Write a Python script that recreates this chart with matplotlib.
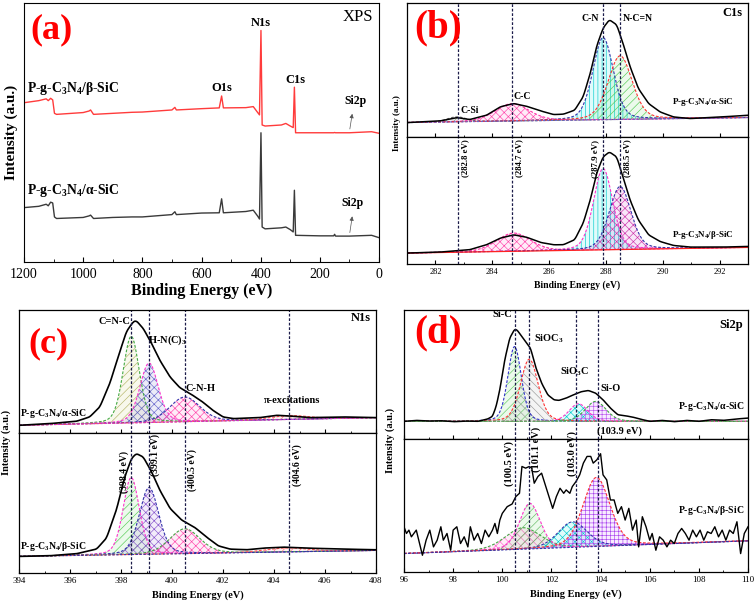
import numpy as np
import matplotlib
matplotlib.use('Agg')
import matplotlib.pyplot as plt
from matplotlib.ticker import MultipleLocator, NullLocator

plt.rcParams['font.family'] = ['Liberation Serif', 'DejaVu Serif']
plt.rcParams['mathtext.fontset'] = 'custom'
plt.rcParams['mathtext.rm'] = 'Liberation Serif:bold'
plt.rcParams['mathtext.it'] = 'Liberation Serif:bold'
plt.rcParams['mathtext.bf'] = 'Liberation Serif:bold'
plt.rcParams['mathtext.default'] = 'rm'
plt.rcParams['hatch.linewidth'] = 0.45

# ---------------- (a) XPS survey ----------------
survey_be = [1200, 1150, 1125, 1118, 1110, 1103, 1097, 1090, 1000, 980, 975, 965, 900, 835, 800,
             700, 690, 685, 600, 540, 532, 526, 450, 425, 410, 404, 399, 395, 385, 330, 315, 300,
             290, 286, 282, 200, 153, 150, 147, 100, 25, 0]
survey_beta = [61.5, 62.3, 63.0, 62.3, 63.2, 62.6, 57.4, 57.0, 57.7, 58.3, 58.7, 57.0, 57.4, 57.8, 57.9,
               58.7, 59.7, 58.7, 59.2, 59.5, 64.1, 59.5, 59.6, 60.0, 57.7, 56.8, 89.4, 52.9, 52.5, 52.9,
               53.5, 52.5, 51.9, 67.5, 49.9, 49.9, 49.9, 50.0, 49.9, 49.9, 50.3, 49.7]
survey_alpha = [21.0, 21.5, 22.3, 21.7, 23.1, 22.8, 17.4, 16.8, 17.2, 17.8, 18.1, 16.8, 17.2, 17.4, 17.4,
                18.3, 19.4, 18.3, 18.9, 19.0, 24.4, 19.0, 19.5, 20.0, 17.7, 16.6, 49.9, 13.5, 12.8, 13.2,
                13.5, 12.5, 11.6, 27.7, 10.3, 10.1, 10.1, 10.7, 10.0, 10.0, 10.3, 9.4]

# ---------------- (b) C1s ----------------
b_env_be = [281.0, 282.17, 282.76, 283.2, 283.8, 284.28, 284.75, 285.2, 285.7, 286.15, 286.5, 286.9,
            287.2, 287.45, 287.67, 287.9, 288.12, 288.38, 288.6, 288.85, 289.14, 289.5, 289.9, 290.37,
            290.95, 292.1, 293.0]
b_alpha_env = [43, 48, 58, 52, 65, 90, 100, 92, 78, 67, 68, 80, 120, 190, 270, 325, 350, 335, 280, 210,
               145, 100, 75, 60, 55, 60, 65]
b_beta_env = [33, 36, 40, 43, 58, 78, 88, 81, 65, 58, 58, 73, 123, 193, 273, 323, 338, 323, 263, 193,
              133, 88, 68, 56, 51, 51, 53]
b_alpha_base = [43, 58]
b_beta_base = [33, 50]
b_alpha_centers = [282.75, 284.7, 287.9, 288.5]
b_alpha_heights = [15, 52, 245, 190]
b_alpha_fwhm = [0.8, 1.4, 0.85, 1.0]
b_beta_centers = [284.75, 287.9, 288.5]
b_beta_heights = [55, 245, 190]
b_beta_fwhm = [1.4, 0.8, 0.9]
b_lines = [282.8, 284.7, 287.9, 288.5]

# ---------------- (c) N1s ----------------
c_env_be = [394.0, 395.2, 396.25, 396.77, 397.17, 397.56, 397.89, 398.21, 398.48, 398.6, 398.87, 399.2,
            399.52, 399.92, 400.3, 400.77, 401.2, 401.6, 402.0, 402.4, 403.45, 404.1, 404.6, 405.4,
            406.7, 408.0]
c_alpha_env = [23, 28, 35, 48, 78, 148, 228, 303, 333, 336, 313, 268, 218, 168, 136, 115, 93, 68, 48,
               43, 46, 53, 51, 46, 48, 46]
c_beta_env_be = [394.0, 395.2, 396.25, 397.04, 397.43, 397.82, 398.15, 398.41, 398.6, 398.87, 399.2,
                 399.52, 399.92, 400.37, 400.9, 401.36, 401.81, 402.27, 402.93, 403.58, 404.37, 405.28,
                 406.7, 408.0]
c_beta_env = [50, 52, 58, 72, 105, 190, 290, 345, 360, 350, 305, 250, 195, 160, 137, 108, 82, 72, 70,
              75, 78, 75, 72, 70]
c_alpha_base = [23, 46]
c_beta_base = [50, 68]
c_alpha_centers = [398.4, 399.1, 400.5, 404.6]
c_alpha_heights = [259, 178, 74, 12]
c_alpha_fwhm = [0.75, 0.85, 1.4, 1.8]
c_beta_centers = [398.4, 399.1, 400.5, 404.5]
c_beta_heights = [232, 201, 75, 12]
c_beta_fwhm = [0.75, 0.9, 1.4, 2.0]
c_lines = [398.4, 399.1, 400.5, 404.6]

# ---------------- (d) Si2p ----------------
d_alpha_be = [96.0, 96.5, 97.0, 97.5, 98.0, 98.5, 99.0, 99.4, 99.6, 99.75, 99.9, 100.1, 100.3, 100.5,
              100.6, 100.8, 101.0, 101.15, 101.35, 101.6, 101.85, 102.1, 102.3, 102.6, 102.9, 103.2,
              103.5, 103.8, 104.1, 104.4, 104.7, 105.0, 105.3, 105.6, 106.0, 106.5, 107.0, 107.5,
              108.0, 108.5, 109.0, 109.5, 110.0]
d_alpha_int = [53, 56, 54, 55, 52, 54, 53, 60, 68, 98, 148, 238, 303, 330, 328, 308, 288, 273, 218, 168,
               133, 118, 116, 123, 133, 142, 146, 138, 118, 93, 73, 70, 66, 60, 53, 56, 52, 56, 53, 58,
               56, 60, 63]
d_beta_be = [96.0, 96.1, 96.2, 96.3, 96.4, 96.5, 96.6, 96.75, 96.9, 97.05, 97.2, 97.35, 97.5, 97.6,
             97.75, 97.9, 98.0, 98.15, 98.3, 98.45, 98.6, 98.7, 98.85, 99.0, 99.15, 99.3, 99.45, 99.6,
             99.7, 99.8, 99.9, 100.0, 100.2, 100.4, 100.55, 100.7, 100.8, 100.95, 101.1, 101.2, 101.3,
             101.45, 101.6, 101.75, 101.9, 102.05, 102.2, 102.35, 102.5, 102.6, 102.75, 102.85, 103.0,
             103.15, 103.3, 103.45, 103.6, 103.7, 103.85, 104.0, 104.1, 104.25, 104.4, 104.55, 104.7,
             104.85, 105.0, 105.15, 105.3, 105.45, 105.55, 105.7, 105.85, 106.0, 106.1, 106.25, 106.4,
             106.55, 106.7, 106.85, 107.0, 107.15, 107.3, 107.45, 107.6, 107.75, 107.9, 108.05, 108.2,
             108.35, 108.5, 108.65, 108.8, 108.95, 109.1, 109.25, 109.4, 109.55, 109.7, 109.85, 110.0]
d_beta_int = [135, 115, 125, 105, 115, 125, 95, 50, 95, 125, 75, 95, 135, 95, 115, 65, 125, 135, 85,
              105, 75, 135, 95, 115, 85, 125, 105, 125, 145, 115, 155, 175, 195, 203, 225, 235, 315,
              310, 315, 310, 265, 285, 295, 260, 225, 190, 225, 250, 235, 245, 235, 255, 270, 290, 325,
              345, 345, 325, 335, 353, 290, 275, 215, 215, 175, 195, 155, 190, 125, 155, 75, 165, 135,
              95, 115, 65, 105, 95, 75, 95, 85, 115, 130, 115, 95, 125, 105, 125, 95, 120, 115, 135,
              105, 125, 95, 125, 115, 150, 55, 115, 135]
d_alpha_base = [53, 53]
d_beta_base = [55, 93]
d_alpha_centers = [100.5, 101.1, 103.1, 103.8]
d_alpha_heights = [225, 187, 53, 60]
d_alpha_fwhm = [0.65, 0.85, 0.9, 1.0]
d_beta_centers = [100.84, 101.12, 102.86, 103.83]
d_beta_heights = [64, 136, 76, 206]
d_beta_fwhm = [1.7, 1.0, 1.4, 1.3]
d_lines = [100.5, 101.1, 103.0, 103.9]

sample_alpha = r'P-g-C$_3$N$_4$/α-SiC'
sample_beta = r'P-g-C$_3$N$_4$/β-SiC'

# ------------------------------------------------
W, H = 756, 602
fig = plt.figure(figsize=(W / 100, H / 100), dpi=100)


def rect(l, t, r, b):
    return [l / W, 1 - b / H, (r - l) / W, (b - t) / H]


def pv(x, c, h, w, eta=0.25):
    u = (x - c) / w
    return h * ((1 - eta) * np.exp(-4 * np.log(2) * u ** 2) + eta / (1 + 4 * u ** 2))


def smooth_curve(xs, ys, lo, hi, win=13):
    g = np.linspace(lo, hi, 1201)
    y = np.interp(g, xs, ys)
    k = np.ones(win) / win
    yp = np.pad(y, win // 2, mode='edge')
    return g, np.convolve(yp, k, mode='valid')


def draw_fit(ax, lo, hi, base, centers, heights, fwhm, styles, base_style):
    g = np.linspace(lo, hi, 1201)
    bl = np.interp(g, [lo, hi], base)
    for c, h, w, st in zip(centers, heights, fwhm, styles):
        comp = bl + pv(g, c, h, w)
        ax.fill_between(g, bl, comp, facecolor=st['face'], alpha=0.12, linewidth=0)
        ax.fill_between(g, bl, comp, facecolor='none', edgecolor=st['hatchc'], hatch=st['hatch'],
                        linewidth=0)
        ax.plot(g, comp, color=st['line'], lw=0.8, ls=(0, (2.5, 1.5)))
    ax.plot(g, bl, **base_style)


def style_sub(ax, lo, hi, ylim, major, minor, lsize, show_x):
    ax.set_xlim(lo, hi)
    ax.set_ylim(*ylim)
    ax.yaxis.set_major_locator(NullLocator())
    ax.xaxis.set_major_locator(MultipleLocator(major))
    ax.xaxis.set_minor_locator(MultipleLocator(minor))
    ax.tick_params(axis='x', which='both', direction='in', labelsize=lsize, pad=3,
                   labelbottom=show_x)
    ax.tick_params(axis='x', which='major', length=3)
    ax.tick_params(axis='x', which='minor', length=1.5)
    for s in ax.spines.values():
        s.set_linewidth(0.9)


vline_kw = dict(color='#1c1c4a', lw=0.9, ls=(0, (2.2, 1.4)))
red = '#ff0000'

# ---------------- panel (a) ----------------
axa = fig.add_axes(rect(24, 3, 379, 262))
axa.plot(survey_be, survey_beta, color='#ff3b3b', lw=1.0)
axa.plot(survey_be, survey_alpha, color='#3a3a3a', lw=1.0)
axa.set_xlim(1200, 0)
axa.set_ylim(0, 100)
axa.yaxis.set_major_locator(NullLocator())
axa.xaxis.set_major_locator(MultipleLocator(200))
axa.xaxis.set_minor_locator(MultipleLocator(100))
axa.tick_params(axis='x', which='both', direction='in', labelsize=10, pad=4)
axa.tick_params(axis='x', which='major', length=3.5)
axa.tick_params(axis='x', which='minor', length=2)
axa.set_xlabel('Binding Energy (eV)', fontsize=11.5, fontweight='bold', labelpad=2)
axa.set_ylabel('Intensity (a.u.)', fontsize=11, fontweight='bold', labelpad=4)
axa.text(1106, 89.5, '(a)', color=red, fontsize=26, fontweight='bold', ha='center', va='center')
axa.text(20, 94.5, 'XPS', fontsize=12, ha='right', va='center')
axa.text(400, 92.3, 'N1s', fontsize=9, fontweight='bold', ha='center', va='center')
axa.text(531, 67.1, 'O1s', fontsize=9, fontweight='bold', ha='center', va='center')
axa.text(283, 70.3, 'C1s', fontsize=9, fontweight='bold', ha='center', va='center')
axa.text(81, 62.0, 'Si2p', fontsize=8.5, fontweight='bold', ha='center', va='center')
axa.text(89, 22.6, 'Si2p', fontsize=8.5, fontweight='bold', ha='center', va='center')
axa.annotate('', xy=(89, 58.3), xytext=(100, 50.3),
             arrowprops=dict(arrowstyle='-|>', lw=0.5, color='#555555', mutation_scale=6))
axa.annotate('', xy=(89, 18.7), xytext=(100, 10.3),
             arrowprops=dict(arrowstyle='-|>', lw=0.5, color='#555555', mutation_scale=6))
axa.text(1190, 67.1, sample_beta, fontsize=9.8, fontweight='bold', ha='left', va='center')
axa.text(1190, 27.5, sample_alpha, fontsize=9.8, fontweight='bold', ha='left', va='center')

# ---------------- panel (b) ----------------
bt = fig.add_axes(rect(407, 3, 748, 137))
bb = fig.add_axes(rect(407, 137, 748, 264))
b_top_styles = [
    dict(face='#808080', hatchc='#7a9a7a', hatch='////', line='#6a6a6a'),
    dict(face='#ff66cc', hatchc='#ff44aa', hatch='xxxx', line='#ff33aa'),
    dict(face='#00e5e5', hatchc='#00cccc', hatch='||||', line='#3333aa'),
    dict(face='#66dd66', hatchc='#55cc55', hatch='////', line='#ff3333'),
]
b_bot_styles = [
    dict(face='#ff66cc', hatchc='#ff44aa', hatch='xxxx', line='#ff33aa'),
    dict(face='#00e5e5', hatchc='#00cccc', hatch='||||', line='#ff33cc'),
    dict(face='#cc33cc', hatchc='#cc33aa', hatch='xxxx', line='#3333aa'),
]
draw_fit(bt, 281, 293, b_alpha_base, b_alpha_centers, b_alpha_heights, b_alpha_fwhm, b_top_styles,
         dict(color='#6666cc', lw=0.8, ls=(0, (2, 1.5))))
draw_fit(bb, 281, 293, b_beta_base, b_beta_centers, b_beta_heights, b_beta_fwhm, b_bot_styles,
         dict(color='#ff2222', lw=0.9))
gx, gy = smooth_curve(b_env_be, b_alpha_env, 281, 293)
bt.plot(gx, gy, color='black', lw=1.1)
gx, gy = smooth_curve(b_env_be, b_beta_env, 281, 293)
bb.plot(gx, gy, color='black', lw=1.1)
for ax in (bt, bb):
    for v in b_lines:
        ax.axvline(v, **vline_kw)
style_sub(bt, 281, 293, (0, 400), 2, 1, 6, False)
style_sub(bb, 281, 293, (0, 383), 2, 1, 6, True)
bb.set_xlabel('Binding Energy (eV)', fontsize=7, fontweight='bold', labelpad=3)
fig.text(397 / W, 1 - 123 / H, 'Intensity (a.u.)', rotation=90, fontsize=6.5, fontweight='bold',
         ha='center', va='center')
bt.text(282.1, 325, '(b)', color=red, fontsize=28, fontweight='bold', ha='center', va='center')
bt.text(292.8, 370, 'C1s', fontsize=9, fontweight='bold', ha='right', va='center')
bt.text(282.87, 80, 'C-Si', fontsize=7, fontweight='bold', ha='left', va='center')
bt.text(284.75, 120, 'C-C', fontsize=7, fontweight='bold', ha='left', va='center')
bt.text(287.77, 353, 'C-N', fontsize=7, fontweight='bold', ha='right', va='center')
bt.text(288.6, 353, 'N-C=N', fontsize=7, fontweight='bold', ha='left', va='center')
bt.text(292.5, 103, sample_alpha, fontsize=6.5, fontweight='bold', ha='right', va='center')
bb.text(292.5, 88, sample_beta, fontsize=6.5, fontweight='bold', ha='right', va='center')
for xv, lab in [(283.04, '(282.8 eV)'), (284.96, '(284.7 eV)'), (287.64, '(287.9 eV)'),
                (288.76, '(288.5 eV)')]:
    bb.text(xv, 318, lab, rotation=90, fontsize=6.3, fontweight='bold', ha='center', va='center')

# ---------------- panel (c) ----------------
ct = fig.add_axes(rect(19, 310, 376, 433))
cb = fig.add_axes(rect(19, 433, 376, 573))
c_top_styles = [
    dict(face='#cccc66', hatchc='#b5b56a', hatch='////', line='#44aa44'),
    dict(face='#6666cc', hatchc='#6666cc', hatch='xxxx', line='#ff33cc'),
    dict(face='#ff66cc', hatchc='#ff44aa', hatch='xxxx', line='#3333aa'),
    dict(face='#ff9999', hatchc='#ff7777', hatch='////', line='#ff5555'),
]
c_bot_styles = [
    dict(face='#66dd66', hatchc='#55cc55', hatch='////', line='#ff33cc'),
    dict(face='#9966dd', hatchc='#8855cc', hatch='xxxx', line='#3333aa'),
    dict(face='#ff66cc', hatchc='#ff44aa', hatch='xxxx', line='#44aa44'),
    dict(face='#ff9999', hatchc='#ff7777', hatch='////', line='#ff5555'),
]
draw_fit(ct, 394, 408, c_alpha_base, c_alpha_centers, c_alpha_heights, c_alpha_fwhm, c_top_styles,
         dict(color='#cc33cc', lw=0.8, ls=(0, (2, 1.5))))
draw_fit(cb, 394, 408, c_beta_base, c_beta_centers, c_beta_heights, c_beta_fwhm, c_bot_styles,
         dict(color='#3333aa', lw=0.8, ls=(0, (2, 1.5))))
gx, gy = smooth_curve(c_env_be, c_alpha_env, 394, 408)
ct.plot(gx, gy, color='black', lw=1.2)
gx, gy = smooth_curve(c_beta_env_be, c_beta_env, 394, 408)
cb.plot(gx, gy, color='black', lw=1.2)
for ax in (ct, cb):
    for v in c_lines:
        ax.axvline(v, **vline_kw)
style_sub(ct, 394, 408, (0, 368), 2, 1, 6.5, False)
style_sub(cb, 394, 408, (0, 422), 2, 1, 6.5, True)
cb.set_xlabel('Binding Energy (eV)', fontsize=7.5, fontweight='bold', labelpad=4)
fig.text(6 / W, 1 - 442 / H, 'Intensity (a.u.)', rotation=90, fontsize=7.5, fontweight='bold',
         ha='center', va='center')
ct.text(395.14, 268, '(c)', color=red, fontsize=26, fontweight='bold', ha='center', va='center')
ct.text(407.8, 343, 'N1s', fontsize=9, fontweight='bold', ha='right', va='center')
ct.text(398.38, 333, 'C=N-C', fontsize=7.5, fontweight='bold', ha='right', va='center')
ct.text(399.07, 278, 'H-N(C)$_3$', fontsize=7.5, fontweight='bold', ha='left', va='center')
ct.text(400.54, 133, 'C-N-H', fontsize=7.5, fontweight='bold', ha='left', va='center')
ct.text(404.7, 98, 'π-excitations', fontsize=7.5, fontweight='bold', ha='center', va='center')
ct.text(394.05, 58, sample_alpha, fontsize=7, fontweight='bold', ha='left', va='center')
cb.text(394.05, 80, sample_beta, fontsize=7, fontweight='bold', ha='left', va='center')
for xv, yv, lab in [(398.13, 305, '(398.4 eV)'), (399.33, 355, '(399.1 eV)'),
                    (400.78, 310, '(400.5 eV)'), (404.9, 325, '(404.6 eV)')]:
    cb.text(xv, yv, lab, rotation=90, fontsize=7, fontweight='bold', ha='center', va='center')

# ---------------- panel (d) ----------------
dt = fig.add_axes(rect(404, 310, 748, 439))
db = fig.add_axes(rect(404, 439, 748, 572))
d_top_styles = [
    dict(face='#66dd66', hatchc='#66cc66', hatch='////', line='#3333cc'),
    dict(face='#aaaaaa', hatchc='#999999', hatch='\\\\\\\\', line='#ff3333'),
    dict(face='#00e5e5', hatchc='#00cccc', hatch='xxxx', line='#ff33cc'),
    dict(face='#cc66ff', hatchc='#bb55ee', hatch='++++', line='#44aa44'),
]
d_bot_styles = [
    dict(face='#ff66cc', hatchc='#ff66cc', hatch='xxxx', line='#44aa44'),
    dict(face='#66dd66', hatchc='#66bb66', hatch='////', line='#ff33cc'),
    dict(face='#00e5e5', hatchc='#00cccc', hatch='xxxx', line='#3333aa'),
    dict(face='#cc66ff', hatchc='#aa44ee', hatch='++++', line='#ff3333'),
]
draw_fit(dt, 96, 110, d_alpha_base, d_alpha_centers, d_alpha_heights, d_alpha_fwhm, d_top_styles,
         dict(color='#66aa66', lw=0.8, ls=(0, (2, 1.5))))
draw_fit(db, 96, 110, d_beta_base, d_beta_centers, d_beta_heights, d_beta_fwhm, d_bot_styles,
         dict(color='#3333aa', lw=0.8, ls=(0, (2, 1.5))))
gx, gy = smooth_curve(d_alpha_be, d_alpha_int, 96, 110, win=9)
dt.plot(gx, gy, color='black', lw=1.1)
db.plot(d_beta_be, d_beta_int, color='black', lw=1.0)
for ax in (dt, db):
    for v in d_lines:
        ax.axvline(v, **vline_kw)
style_sub(dt, 96, 110, (0, 388), 2, 1, 6.5, False)
style_sub(db, 96, 110, (0, 397), 2, 1, 6.5, True)
db.set_xlabel('Binding Energy (eV)', fontsize=7.5, fontweight='bold', labelpad=4)
fig.text(390 / W, 1 - 440 / H, 'Intensity (a.u.)', rotation=90, fontsize=7.5, fontweight='bold',
         ha='center', va='center')
dt.text(97.4, 318, '(d)', color=red, fontsize=28, fontweight='bold', ha='center', va='center')
dt.text(109.8, 343, 'Si2p', fontsize=9, fontweight='bold', ha='right', va='center')
dt.text(100.42, 373, 'Si-C', fontsize=7.5, fontweight='bold', ha='right', va='center')
dt.text(101.28, 303, 'SiOC$_3$', fontsize=7.5, fontweight='bold', ha='left', va='center')
dt.text(102.95, 203, 'SiO$_3$C', fontsize=7.5, fontweight='bold', ha='center', va='center')
dt.text(104.0, 153, 'Si-O', fontsize=7.5, fontweight='bold', ha='left', va='center')
dt.text(103.86, 23, '(103.9 eV)', fontsize=7.5, fontweight='bold', ha='left', va='center')
dt.text(109.86, 98, sample_alpha, fontsize=7, fontweight='bold', ha='right', va='center')
db.text(109.86, 185, sample_beta, fontsize=7, fontweight='bold', ha='right', va='center')
for xv, yv, lab in [(100.3, 325, '(100.5 eV)'), (101.37, 365, '(101.1 eV)'),
                    (102.86, 355, '(103.0 eV)')]:
    db.text(xv, yv, lab, rotation=90, fontsize=7.5, fontweight='bold', ha='center', va='center')

fig.savefig('out.png', dpi=100)
